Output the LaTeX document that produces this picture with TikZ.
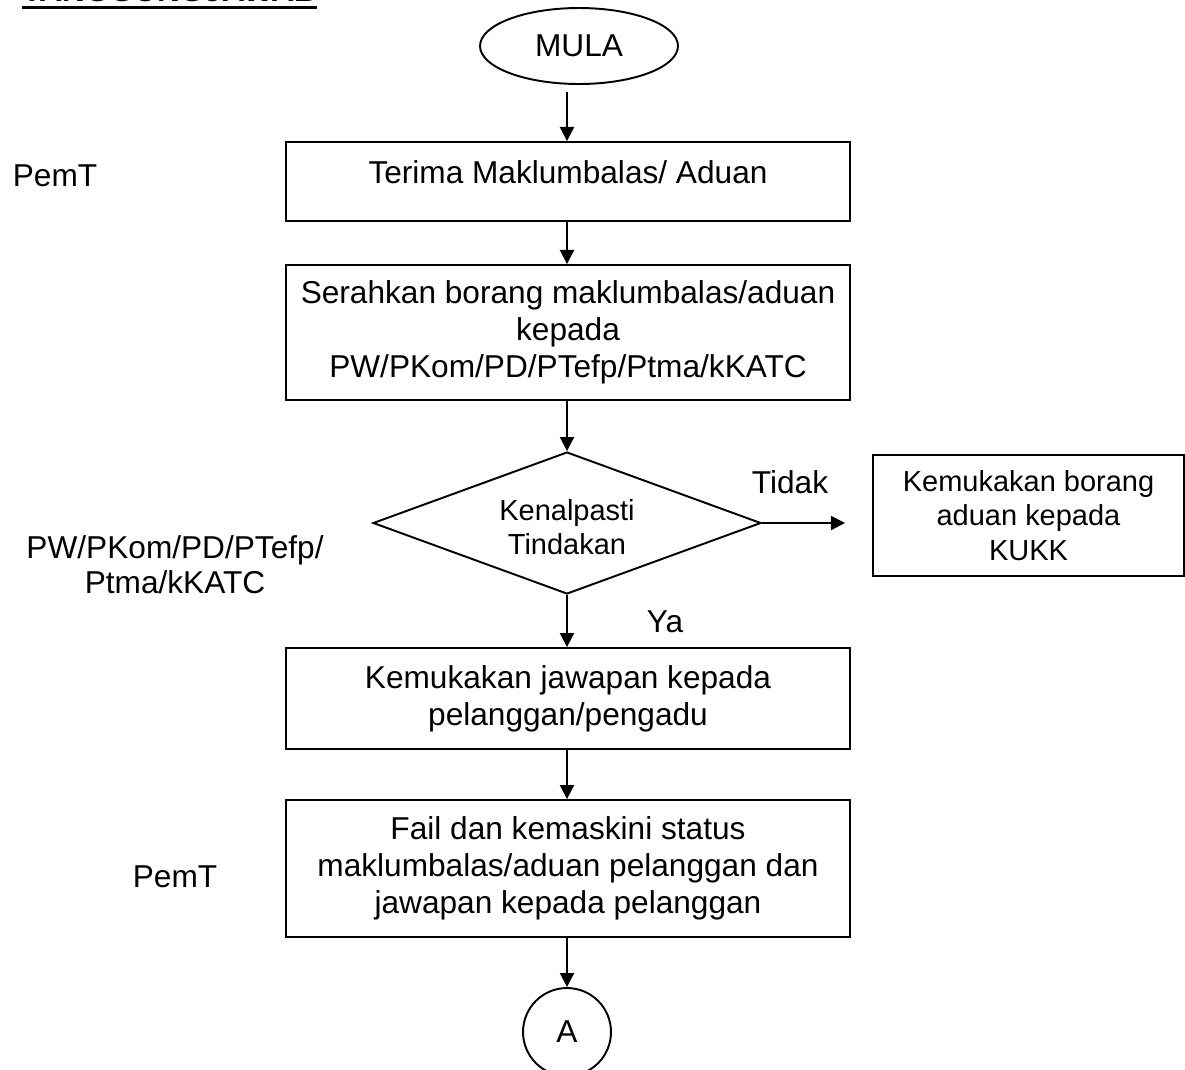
\documentclass[tikz,border=0pt]{standalone}
\usepackage{fontspec}
\setmainfont{Liberation Sans}
\usetikzlibrary{shapes.geometric,arrows.meta}

\tikzset{
  box/.style={draw, line width=1.1pt, minimum width=11.28cm, align=center, inner sep=0pt,
    font=\fontsize{18}{21}\selectfont},
  flow/.style={line width=1.1pt, -{Triangle[length=8pt,width=8pt]}},
  lbl/.style={align=center, font=\fontsize{18}{20}\selectfont}
}

\begin{document}
\begin{tikzpicture} [x=0.02cm, y=-0.02cm]

\useasboundingbox (0,0) rectangle (1185,1069);

\node [anchor=base west, font=\fontsize{18}{20}\selectfont\bfseries, inner sep=0pt] (hdr) at (22,1) {TANGGUNGJAWAB};
\draw [line width=2.2pt] ([yshift=-0.13cm]hdr.base west) -- ([yshift=-0.13cm]hdr.base east);

\node [draw, ellipse, line width=1.1pt, minimum width=3.96cm, minimum height=1.52cm, inner sep=0pt,
  font=\fontsize{18}{20}\selectfont] (mula) at (579,46) {MULA};
\coordinate (mo) at (567,92);

\node [box, minimum height=1.58cm, text depth=0.36cm] (terima) at (568,181.5) {Terima Maklumbalas/ Aduan};
\node [box, minimum height=2.7cm] (serah) at (568,332.5) {Serahkan borang maklumbalas/aduan\\kepada\\PW/PKom/PD/PTefp/Ptma/kKATC};
\node [draw, diamond, line width=1.1pt, minimum width=7.76cm, minimum height=2.84cm, inner sep=0pt] (kenal) at (567,523) {};
\node [align=center, font=\fontsize{16.5}{19.5}\selectfont] (kenaltxt) at (567,527) {Kenalpasti\\Tindakan};
\node [box, minimum height=2.02cm] (jawab) at (568,698.5) {Kemukakan jawapan kepada\\pelanggan/pengadu};
\node [box, minimum height=2.74cm] (fail) at (568,868.5) {Fail dan kemaskini status\\maklumbalas/aduan pelanggan dan\\jawapan kepada pelanggan};
\node [draw, circle, line width=1.1pt, minimum size=1.76cm, inner sep=0pt,
  font=\fontsize{18}{20}\selectfont] (a) at (567,1032) {A};

\node [draw, line width=1.1pt, minimum width=6.22cm, minimum height=2.42cm, inner sep=0pt, align=center,
  font=\fontsize{16.5}{19.5}\selectfont] (kukk) at (1028.5,515.5) {Kemukakan borang\\aduan kepada\\KUKK};
\coordinate (ko) at (845,523);

\node [lbl] (tidak) at (790,482) {Tidak};
\node [lbl] (ya) at (665,622) {Ya};
\node [lbl] (p1) at (55,176) {PemT};
\node [lbl] (p2) at (175,565) {PW/PKom/PD/PTefp/\\Ptma/kKATC};
\node [lbl] (p3) at (175,877) {PemT};

\draw [flow] (mo) -- (mo |- terima.north);
\draw [flow] (terima.south -| mo) -- (mo |- serah.north);
\draw [flow] (serah.south -| mo) -- (kenal.north);
\draw [flow] (kenal.south) -- (mo |- jawab.north);
\draw [flow] (jawab.south -| mo) -- (mo |- fail.north);
\draw [flow] (fail.south -| mo) -- (a.north);
\draw [flow] (kenal.east) -- (ko);

\end{tikzpicture}
\end{document}
